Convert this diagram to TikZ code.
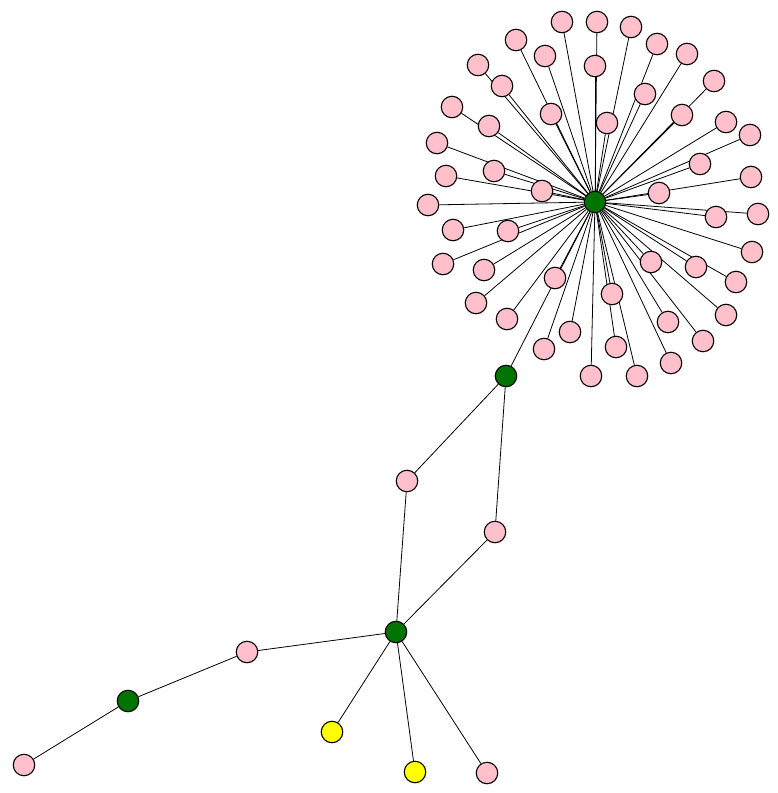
\documentclass[tikz,border=0pt]{standalone}
\usetikzlibrary{backgrounds}
\definecolor{pinkfill}{RGB}{255,192,203}
\definecolor{hubgreen}{RGB}{0,115,0}
\definecolor{yel}{RGB}{255,255,0}
\begin{document}
\begin{tikzpicture}[x=1pt,y=-1pt,
  vtx/.style={circle,draw=black,line width=1.1pt,minimum size=21.5pt,inner sep=0pt},
  pinkv/.style={vtx,fill=pinkfill},
  greenv/.style={vtx,fill=hubgreen},
  yellowv/.style={vtx,fill=yel},
  edge/.style={draw=black,line width=0.8pt}]
\useasboundingbox (0,0) rectangle (778,793);
\node[greenv] (hub) at (595,202) {};
\foreach \n/\x/\y in {1/562/22, 2/597/22, 3/631/27, 4/657/44, 5/687/54, 6/714/81,
  7/726/122, 8/750/135, 9/751/177, 10/758/214, 11/752/252, 12/736/282, 13/726/315,
  14/703/341, 15/671/363, 16/637/376, 17/591/376, 18/544/349, 19/507/319, 20/476/303,
  21/443/264, 22/428/205, 23/446/176, 24/437/143, 25/452/107, 26/478/65, 27/516/40,
  28/545/56, 29/595/66, 30/502/86, 31/489/126, 32/551/114, 33/607/123, 34/645/94,
  35/682/115, 36/700/164, 37/659/193, 38/716/217, 39/696/267, 40/651/262, 41/668/322,
  42/612/294, 43/616/347, 44/570/332, 45/555/278, 46/484/270, 47/508/231, 48/453/230,
  49/494/171, 50/542/191}
{
  \node[pinkv] (p\n) at (\x,\y) {};
  \begin{pgfonlayer}{background}
    \draw[edge] (hub) -- (p\n);
  \end{pgfonlayer}
}
\node[greenv] (g1) at (506,376) {};
\node[pinkv] (a) at (407,481) {};
\node[pinkv] (b) at (495,532) {};
\node[greenv] (g2) at (396,632) {};
\node[pinkv] (c) at (247,652) {};
\node[greenv] (g3) at (128,701) {};
\node[pinkv] (d) at (24,765) {};
\node[yellowv] (y1) at (332,732) {};
\node[yellowv] (y2) at (415,772) {};
\node[pinkv] (e) at (487,773) {};
\begin{pgfonlayer}{background}
\draw[edge] (hub) -- (g1);
\draw[edge] (g1) -- (a);
\draw[edge] (g1) -- (b);
\draw[edge] (a) -- (g2);
\draw[edge] (b) -- (g2);
\draw[edge] (g2) -- (c);
\draw[edge] (c) -- (g3);
\draw[edge] (g3) -- (d);
\draw[edge] (g2) -- (y1);
\draw[edge] (g2) -- (y2);
\draw[edge] (g2) -- (e);
\end{pgfonlayer}
\end{tikzpicture}
\end{document}
